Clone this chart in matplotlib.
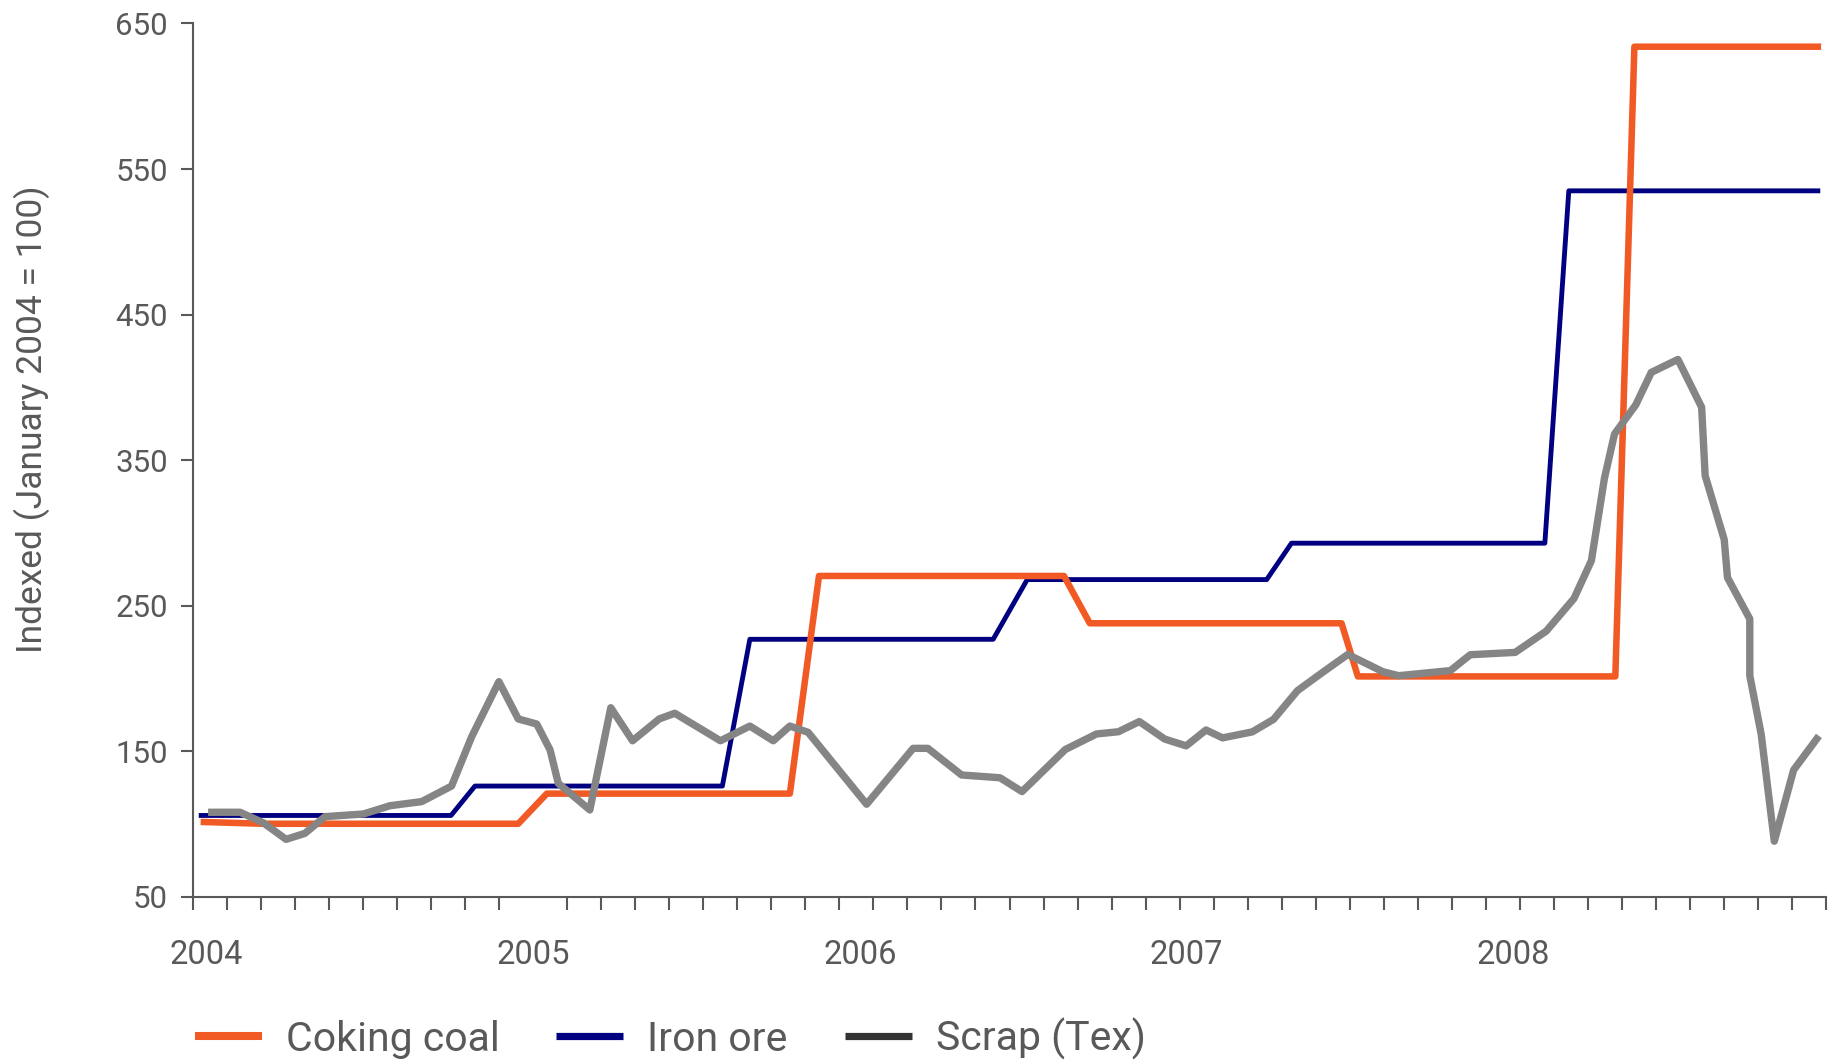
import matplotlib
matplotlib.use('Agg')
from matplotlib import pyplot as plt
from matplotlib.lines import Line2D
import numpy as np

plt.rcParams['font.family'] = ['Roboto', 'DejaVu Sans']

# x values are months counted from January 2004
coal_month = [-0.1, 2.1, 11.45, 12.5, 21.43, 22.5, 31.5, 32.45, 41.7, 42.3, 51.76, 52.46, 59.2]
coal_index = [101.5, 100.3, 100.3, 121, 121, 270.5, 270.5, 238, 238, 201.5, 201.5, 634, 634]

ore_month = [-0.2, 8.98, 9.86, 18.95, 19.96, 28.9, 30.15, 38.95, 39.86, 49.17, 50.05, 59.2]
ore_index = [106, 106, 126.2, 126.2, 227, 227, 268, 268, 293, 293, 535, 535]

scrap_month = [0.19, 1.23, 2.08, 2.92, 3.61, 4.35, 5.76, 6.74, 7.90, 9.0, 9.74, 10.74,
               11.45, 12.13, 12.62, 12.92, 14.08, 14.85, 15.65, 16.63, 17.2, 18.88,
               19.96, 20.82, 21.43, 22.1, 24.25, 25.96, 26.5, 27.74, 29.15, 29.96,
               31.55, 32.7, 33.5, 34.27, 35.2, 35.99, 36.72, 37.33, 38.42, 39.2,
               40.08, 41.02, 41.93, 43.22, 43.8, 45.7, 46.43, 48.08, 49.22, 50.24,
               50.88, 51.36, 51.73, 52.51, 53.08, 54.06, 54.93, 55.06, 55.76, 55.88,
               56.7, 56.7, 57.12, 57.6, 58.31, 59.16]
scrap_index = [108.2, 108.2, 101, 89.6, 93.7, 105.2, 107, 112.7, 115.5, 126.2, 160.1, 197.9,
               172.3, 168.8, 151, 128.1, 109.8, 180, 157.3, 172.3, 176.2, 157.3,
               167.4, 157.3, 167.4, 163.1, 113.7, 152.1, 152.1, 133.8, 131.9, 122.4,
               151.3, 162, 163.5, 170.5, 158.5, 153.8, 164.7, 159.3, 163.4, 172,
               191.7, 204.5, 216.6, 204.7, 202, 205.5, 216.4, 218, 232.6, 255,
               281, 337.7, 368, 388, 410.3, 419.2, 386.4, 339.4, 295.5, 269.4,
               241, 202, 161.6, 88.3, 137.2, 158.6]

years = ['2004', '2005', '2006', '2007', '2008']
year_month = [0, 12, 24, 36, 48]
yticks = [50, 150, 250, 350, 450, 550, 650]
series_names = ['Coking coal', 'Iron ore', 'Scrap (Tex)']

orange = '#f15a24'
navy = '#000080'
grey = '#858585'
axcol = '#595959'

W, H = 1836, 1064
fig = plt.figure(figsize=(W/100, H/100), dpi=100)
ax = fig.add_axes([193/W, 1-897/H, (1826-193)/W, (897-23.4)/H])

ax.plot(ore_month, ore_index, color=navy, lw=3.5, solid_joinstyle='round', zorder=2)
ax.plot(coal_month, coal_index, color=orange, lw=4.7, solid_joinstyle='round', zorder=3)
ax.plot(scrap_month, scrap_index, color=grey, lw=5.3, solid_joinstyle='round', zorder=4)

ax.set_xlim(-0.5, 59.5)
ax.set_ylim(50, 650)

for s in ['top', 'right']:
    ax.spines[s].set_visible(False)
for s in ['left', 'bottom']:
    ax.spines[s].set_color(axcol)
    ax.spines[s].set_linewidth(1.5)

ax.set_yticks(yticks)
ax.tick_params(axis='y', direction='out', length=9, width=1.5, color=axcol,
               labelcolor=axcol, labelsize=22.5, pad=9)

ax.set_xticks(year_month)
ax.set_xticklabels(years)
ax.set_xticks(np.linspace(-0.5, 59.5, 49), minor=True)
ax.tick_params(axis='x', which='major', length=0, labelcolor=axcol, labelsize=23.5, pad=30)
ax.tick_params(axis='x', which='minor', direction='out', length=9, width=1.5, color=axcol)

ax.set_ylabel('Indexed (January 2004 = 100)', fontsize=25.5, color=axcol)
ax.yaxis.set_label_coords((50-193)/1633, 0.5466)

# legend drawn by hand so each entry sits where it does in the original
leg_colors = [orange, navy, '#333333']
leg_lw = [5.8, 5.2, 5.2]
leg_x = [195, 556, 845]
for name, col, lw, x0 in zip(series_names, leg_colors, leg_lw, leg_x):
    fig.add_artist(Line2D([x0/W, (x0+67)/W], [1-1036/H, 1-1036/H], color=col, lw=lw,
                          solid_capstyle='butt', transform=fig.transFigure))
    fig.text((x0+91)/W, 1-1051/H, name, fontsize=29.5, color=axcol, ha='left', va='baseline')

fig.savefig('out.png', dpi=100)
